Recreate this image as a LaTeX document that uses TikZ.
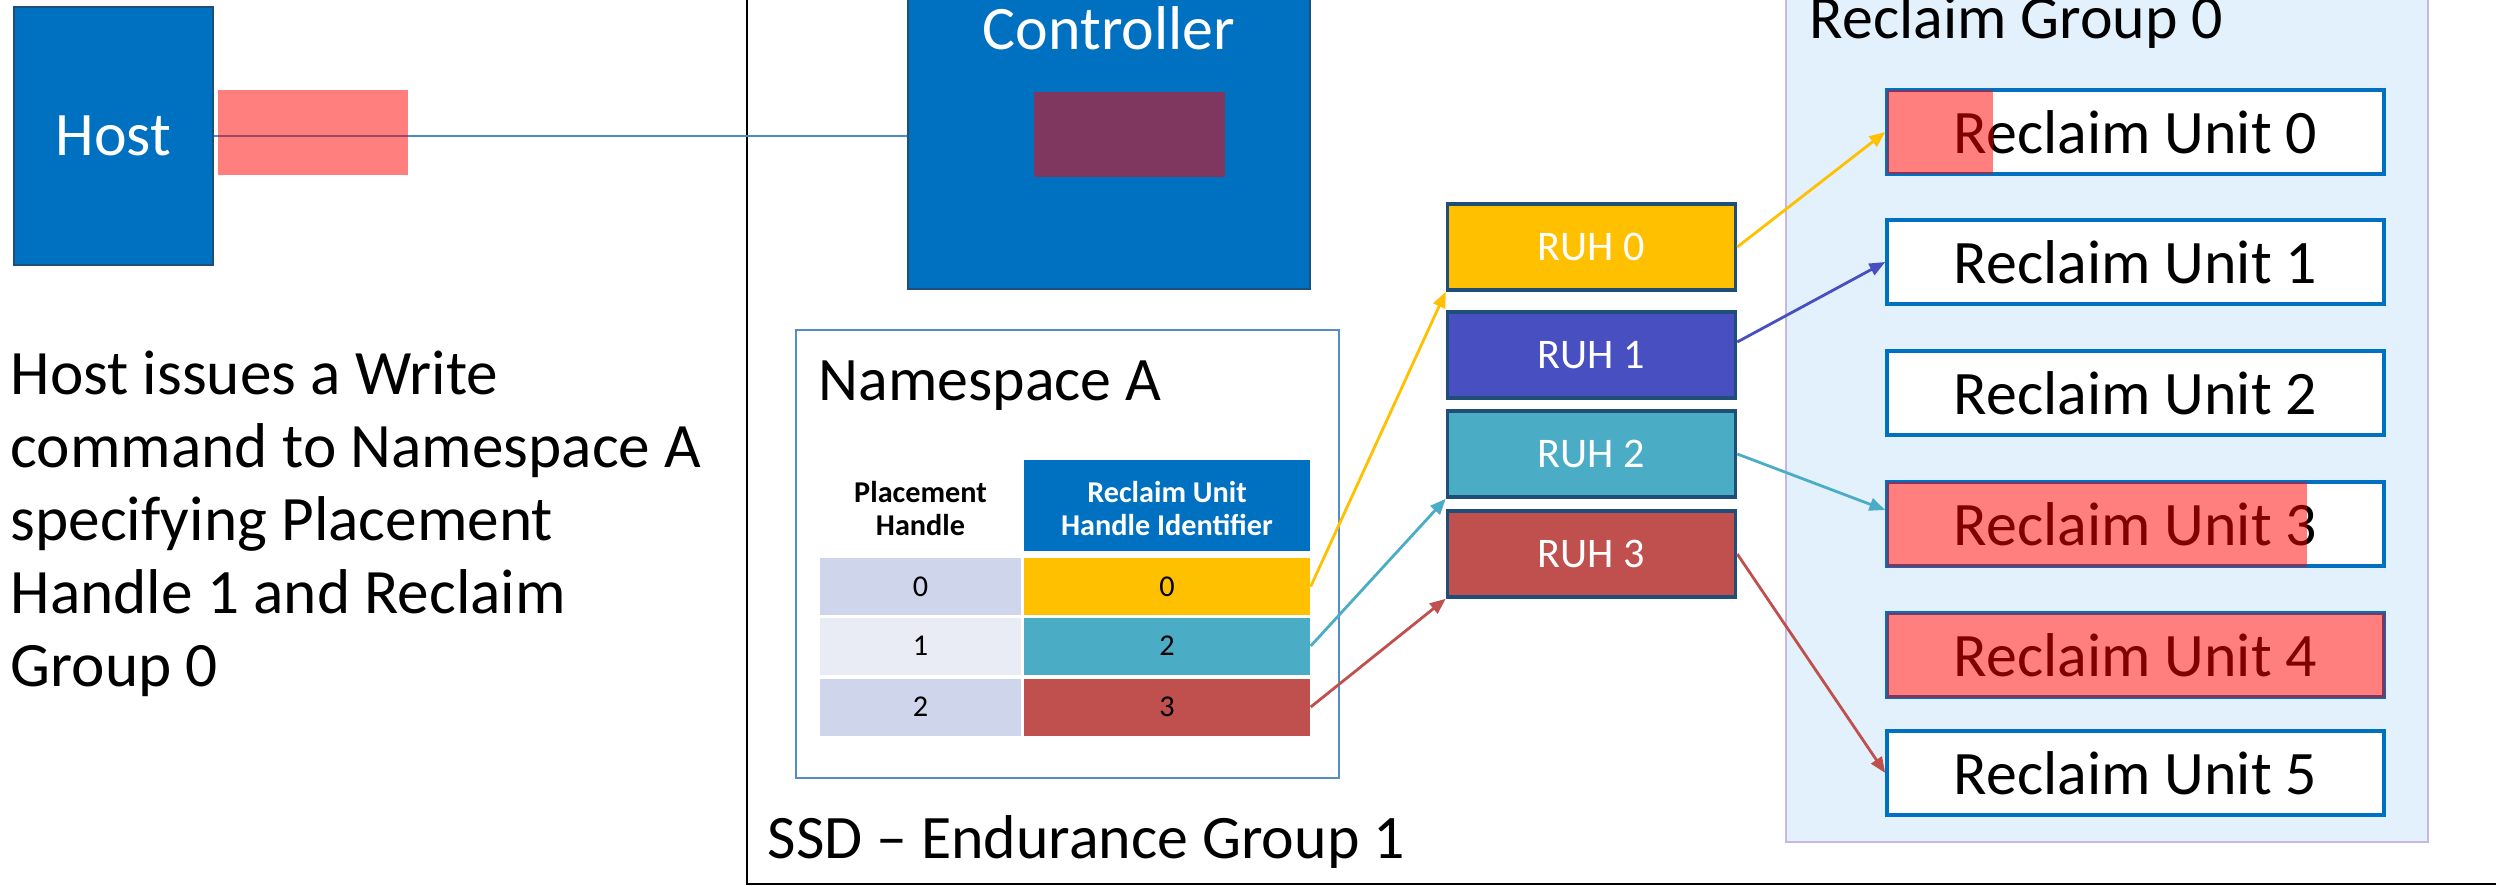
\documentclass[tikz,border=0pt]{standalone}
\usepackage{fontspec}
\setmainfont{Carlito}
\usetikzlibrary{arrows.meta}
\definecolor{HostBlue}{RGB}{0,112,192}
\definecolor{LinkBlue}{RGB}{68,140,203}
\definecolor{RuhYellow}{RGB}{255,192,0}
\definecolor{RuhPurple}{RGB}{72,79,193}
\definecolor{RuhCyan}{RGB}{75,172,198}
\definecolor{RuhRed}{RGB}{192,80,77}
\definecolor{RuhEdge}{RGB}{31,78,121}
\definecolor{NsEdge}{RGB}{84,141,195}
\definecolor{GroupFill}{RGB}{227,241,253}
\definecolor{GroupEdge}{RGB}{200,182,232}
\definecolor{CellDark}{RGB}{207,213,234}
\definecolor{CellLight}{RGB}{233,235,245}

\begin{document}
\begin{tikzpicture}[y=-1cm,>={Triangle[length=4.5pt,width=3.6pt]},
    big/.style={font=\fontsize{17.6}{20.8}\selectfont},
    ruh/.style={draw=RuhEdge,line width=1pt,minimum width=2.88cm,minimum height=.86cm,text=white,font=\fontsize{12}{14}\selectfont},
    unit/.style={draw=HostBlue,line width=1pt,fill=white,minimum width=4.97cm,minimum height=.84cm,big},
    cell/.style={minimum height=.57cm,inner sep=0pt,font=\fontsize{8.6}{9.4}\selectfont},
    head/.style={align=center,inner sep=0pt,font=\bfseries\fontsize{8.6}{9.4}\selectfont},
    hit/.style={fill=red,fill opacity=.5},
    link/.style={->,line width=.8pt}]
  \useasboundingbox (0,0) rectangle (24.96,8.86);
  \clip (0,0) rectangle (24.96,8.86);

  % host side
  \node[fill=HostBlue,draw=RuhEdge,line width=.6pt,minimum width=1.99cm,minimum height=2.58cm,text=white,big] (host) at (1.135,1.36) {Host};
  \node[font=\fontsize{18}{20.8}\selectfont,anchor=north west,align=left,inner sep=0pt] (note) at (0.10,3.50) {Host issues a Write\\command to Namespace A\\specifying Placement\\Handle 1 and Reclaim\\Group 0};

  % SSD frame
  \draw[line width=.7pt] (7.47,-0.5) -- (7.47,8.84) -- (25.5,8.84);
  \node[big,anchor=base west,inner sep=0pt] (ssdtitle) at (7.67,8.58) {SSD -- Endurance Group 1};

  % controller
  \node[fill=HostBlue,draw=RuhEdge,line width=.6pt,minimum width=4.02cm,minimum height=3.39cm] (ctrl) at (11.09,1.195) {};
  \node[big,text=white,anchor=base,inner sep=0pt] (ctrltitle) at (11.09,0.49) {Controller};
  \draw[LinkBlue,line width=.6pt] (host.east) -- (host.east -| ctrl.west);
  \fill[hit] (2.18,0.90) rectangle (4.08,1.75);
  \fill[hit] (10.34,0.92) rectangle (12.25,1.77);

  % namespace and its table
  \node[draw=NsEdge,line width=.8pt,minimum width=5.43cm,minimum height=4.48cm] (ns) at (10.675,5.54) {};
  \node[big,anchor=base west,inner sep=0pt] (nstitle) at (8.18,4.00) {Namespace A};
  \node[head] (phhead) at (9.205,5.085) {Placement\\Handle};
  \node[fill=HostBlue,minimum width=2.86cm,minimum height=.91cm] (ridbox) at (11.67,5.055) {};
  \node[head,text=white] (ridhead) at (11.67,5.085) {Reclaim Unit\\Handle Identifier};
  \foreach \r/\id/\col/\shade/\yy in {0/0/RuhYellow/CellDark/5.865,1/2/RuhCyan/CellLight/6.46,2/3/RuhRed/CellDark/7.07} {
    \node[cell,fill=\shade,minimum width=2.01cm] (ph\r) at (9.205,\yy) {\r};
    \node[cell,fill=\col,minimum width=2.86cm] (rid\r) at (11.67,\yy) {\id};
  }

  % reclaim unit handles
  \foreach \i/\col/\yy in {0/RuhYellow/2.47,1/RuhPurple/3.55,2/RuhCyan/4.54,3/RuhRed/5.54}
    \node[ruh,fill=\col] (ruh\i) at (15.915,\yy) {RUH \i};

  % reclaim group
  \node[draw=GroupEdge,fill=GroupFill,line width=.6pt,minimum width=6.42cm,minimum height=8.62cm] (rg) at (21.07,4.11) {};
  \node[big,anchor=base west,inner sep=0pt] (rgtitle) at (18.09,0.38) {Reclaim Group 0};
  \foreach \i/\yy in {0/1.32,1/2.62,2/3.93,3/5.24,4/6.55,5/7.73}
    \node[unit] (ru\i) at (21.355,\yy) {Reclaim Unit \i};
  \fill[hit] (18.87,0.90) rectangle (19.93,1.74);
  \fill[hit] (18.87,4.82) rectangle (23.07,5.67);
  \fill[hit] (18.87,6.13) rectangle (23.85,6.98);

  % connectors
  \draw[link,RuhYellow] (rid0.east) -- (ruh0.south west);
  \draw[link,RuhCyan] (rid1.east) -- (ruh2.south west);
  \draw[link,RuhRed] (rid2.east) -- (ruh3.south west);
  \draw[link,RuhYellow] (ruh0.east) -- (ru0.west);
  \draw[link,RuhPurple] ([yshift=1.3mm]ruh1.east) -- (ru1.west);
  \draw[link,RuhCyan] (ruh2.east) -- ([yshift=1.4mm]ru3.west);
  \draw[link,RuhRed] (ruh3.east) -- (ru5.west);
\end{tikzpicture}
\end{document}
